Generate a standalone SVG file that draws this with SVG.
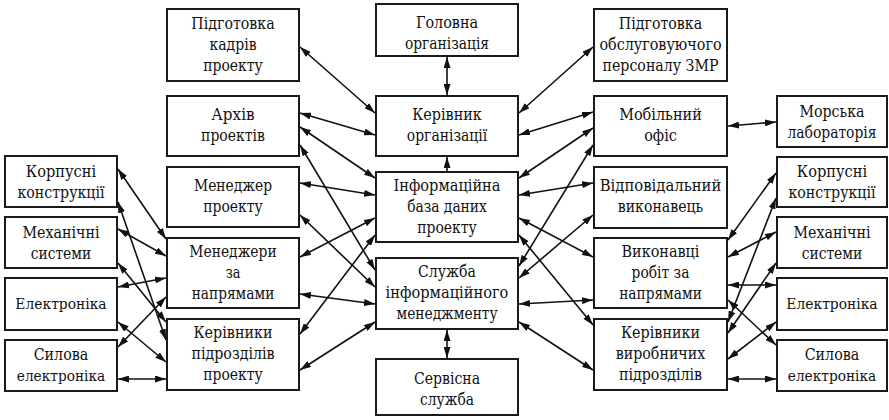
<svg xmlns="http://www.w3.org/2000/svg" width="889" height="420" viewBox="0 0 889 420">
<defs>
<style>
rect{fill:#fff;stroke:#1a1a1a;stroke-width:2}
text{font-family:"DejaVu Serif",serif;font-size:16px;text-anchor:middle;fill:#111}
text.s{font-size:15px}
#connectors line{stroke:#111;stroke-width:1.6;marker-start:url(#ah);marker-end:url(#ah)}
#connectors line.one{marker-start:none}
</style>
<marker id="ah" viewBox="0 0 11 7" refX="11" refY="3.5" markerWidth="11" markerHeight="7" markerUnits="userSpaceOnUse" orient="auto-start-reverse"><path d="M0,0 L11,3.5 L0,7 z" fill="#111"/></marker>
</defs>
<rect x="0" y="0" width="889" height="420" style="fill:#fff;stroke:none"/>

<g id="n-korpus-l"><rect x="5" y="156" width="112" height="51"/><text x="61" y="177" textLength="70.3" lengthAdjust="spacingAndGlyphs">Корпусні</text><text x="61" y="198" textLength="87.1" lengthAdjust="spacingAndGlyphs">конструкції</text></g>
<g id="n-mech-l"><rect x="5" y="217" width="112" height="51"/><text x="61" y="238" textLength="77.1" lengthAdjust="spacingAndGlyphs">Механічні</text><text x="61" y="259" textLength="60.5" lengthAdjust="spacingAndGlyphs">системи</text></g>
<g id="n-elec-l"><rect x="5" y="278" width="112" height="52"/><text class="s" x="61" y="309" textLength="91.3" lengthAdjust="spacingAndGlyphs">Електроніка</text></g>
<g id="n-power-l"><rect x="5" y="340" width="112" height="51"/><text x="61" y="360" textLength="54.6" lengthAdjust="spacingAndGlyphs">Силова</text><text class="s" x="61" y="381" textLength="88.4" lengthAdjust="spacingAndGlyphs">електроніка</text></g>

<g id="n-train"><rect x="167" y="9" width="132" height="72"/><text x="233" y="29" textLength="83.3" lengthAdjust="spacingAndGlyphs">Підготовка</text><text x="233" y="50" textLength="47.1" lengthAdjust="spacingAndGlyphs">кадрів</text><text x="233" y="71" textLength="59.5" lengthAdjust="spacingAndGlyphs">проекту</text></g>
<g id="n-archive"><rect x="167" y="96" width="132" height="60"/><text x="233" y="120" textLength="43.3" lengthAdjust="spacingAndGlyphs">Архів</text><text x="233" y="141" textLength="63.9" lengthAdjust="spacingAndGlyphs">проектів</text></g>
<g id="n-pm"><rect x="167" y="167" width="132" height="60"/><text x="233" y="191" textLength="78" lengthAdjust="spacingAndGlyphs">Менеджер</text><text x="233" y="212" textLength="59.5" lengthAdjust="spacingAndGlyphs">проекту</text></g>
<g id="n-managers"><rect x="167" y="238" width="132" height="70"/><text x="233" y="257" textLength="87.3" lengthAdjust="spacingAndGlyphs">Менеджери</text><text x="233" y="278" textLength="14.7" lengthAdjust="spacingAndGlyphs">за</text><text x="233" y="299" textLength="82.6" lengthAdjust="spacingAndGlyphs">напрямами</text></g>
<g id="n-heads-l"><rect x="167" y="319" width="132" height="71"/><text x="233" y="338" textLength="78.9" lengthAdjust="spacingAndGlyphs">Керівники</text><text x="233" y="359" textLength="83.2" lengthAdjust="spacingAndGlyphs">підрозділів</text><text x="233" y="380" textLength="59.5" lengthAdjust="spacingAndGlyphs">проекту</text></g>

<g id="n-main"><rect x="376" y="4" width="142" height="52"/><text x="447" y="28" textLength="62.2" lengthAdjust="spacingAndGlyphs">Головна</text><text x="447" y="49" textLength="84.1" lengthAdjust="spacingAndGlyphs">організація</text></g>
<g id="n-head"><rect x="376" y="96" width="142" height="60"/><text x="447" y="120" textLength="69.5" lengthAdjust="spacingAndGlyphs">Керівник</text><text x="447" y="141" textLength="80.4" lengthAdjust="spacingAndGlyphs">організації</text></g>
<g id="n-db"><rect x="376" y="172" width="142" height="70"/><text x="447" y="191" textLength="106.9" lengthAdjust="spacingAndGlyphs">Інформаційна</text><text x="447" y="212" textLength="79.7" lengthAdjust="spacingAndGlyphs">база даних</text><text x="447" y="233" textLength="59.5" lengthAdjust="spacingAndGlyphs">проекту</text></g>
<g id="n-ims"><rect x="376" y="258" width="142" height="71"/><text x="447" y="277" textLength="57.8" lengthAdjust="spacingAndGlyphs">Служба</text><text x="447" y="298" textLength="122.8" lengthAdjust="spacingAndGlyphs">інформаційного</text><text x="447" y="319" textLength="101.1" lengthAdjust="spacingAndGlyphs">менеджменту</text></g>
<g id="n-service"><rect x="376" y="359" width="142" height="56"/><text x="447" y="384" textLength="66.2" lengthAdjust="spacingAndGlyphs">Сервісна</text><text x="447" y="405" textLength="53.9" lengthAdjust="spacingAndGlyphs">служба</text></g>

<g id="n-train-r"><rect x="594" y="9" width="133" height="72"/><text x="660.5" y="29" textLength="83.3" lengthAdjust="spacingAndGlyphs">Підготовка</text><text x="660.5" y="50" textLength="122.1" lengthAdjust="spacingAndGlyphs">обслуговуючого</text><text x="660.5" y="71" textLength="115.9" lengthAdjust="spacingAndGlyphs">персоналу ЗМР</text></g>
<g id="n-mobile"><rect x="594" y="96" width="133" height="60"/><text x="660.5" y="120" textLength="82.7" lengthAdjust="spacingAndGlyphs">Мобільний</text><text x="660.5" y="141" textLength="32.7" lengthAdjust="spacingAndGlyphs">офіс</text></g>
<g id="n-resp"><rect x="594" y="167" width="133" height="61"/><text x="660.5" y="191" textLength="121.7" lengthAdjust="spacingAndGlyphs">Відповідальний</text><text x="660.5" y="212" textLength="85.4" lengthAdjust="spacingAndGlyphs">виконавець</text></g>
<g id="n-exec"><rect x="594" y="238" width="133" height="70"/><text x="660.5" y="257" textLength="77.9" lengthAdjust="spacingAndGlyphs">Виконавці</text><text x="660.5" y="278" textLength="57.8" lengthAdjust="spacingAndGlyphs">робіт за</text><text x="660.5" y="299" textLength="82.6" lengthAdjust="spacingAndGlyphs">напрямами</text></g>
<g id="n-heads-r"><rect x="594" y="319" width="133" height="71"/><text x="660.5" y="338" textLength="78.9" lengthAdjust="spacingAndGlyphs">Керівники</text><text x="660.5" y="359" textLength="89.5" lengthAdjust="spacingAndGlyphs">виробничих</text><text x="660.5" y="380" textLength="83.2" lengthAdjust="spacingAndGlyphs">підрозділів</text></g>

<g id="n-lab"><rect x="777" y="96" width="110" height="51"/><text x="832" y="117" textLength="65.1" lengthAdjust="spacingAndGlyphs">Морська</text><text x="832" y="138" textLength="89.1" lengthAdjust="spacingAndGlyphs">лабораторія</text></g>
<g id="n-korpus-r"><rect x="777" y="157" width="110" height="50"/><text x="832" y="177" textLength="70.3" lengthAdjust="spacingAndGlyphs">Корпусні</text><text x="832" y="198" textLength="87.1" lengthAdjust="spacingAndGlyphs">конструкції</text></g>
<g id="n-mech-r"><rect x="777" y="217" width="110" height="51"/><text x="832" y="238" textLength="77.1" lengthAdjust="spacingAndGlyphs">Механічні</text><text x="832" y="259" textLength="60.5" lengthAdjust="spacingAndGlyphs">системи</text></g>
<g id="n-elec-r"><rect x="777" y="278" width="110" height="52"/><text class="s" x="832" y="309" textLength="91.3" lengthAdjust="spacingAndGlyphs">Електроніка</text></g>
<g id="n-power-r"><rect x="777" y="340" width="110" height="51"/><text x="832" y="360" textLength="54.6" lengthAdjust="spacingAndGlyphs">Силова</text><text class="s" x="832" y="381" textLength="88.4" lengthAdjust="spacingAndGlyphs">електроніка</text></g>

<g id="connectors">
<line x1="447" y1="57" x2="447" y2="95"/>
<line class="one" x1="447" y1="171" x2="447" y2="157"/>
<line x1="447" y1="330" x2="447" y2="358"/>
<line x1="300" y1="47" x2="375" y2="113"/>
<line x1="300" y1="113" x2="375" y2="135"/>
<line x1="300" y1="127" x2="375" y2="178"/>
<line x1="300" y1="145" x2="375" y2="270"/>
<line x1="300" y1="183" x2="375" y2="195"/>
<line x1="300" y1="215" x2="375" y2="287"/>
<line x1="300" y1="257" x2="375" y2="218"/>
<line x1="300" y1="294" x2="375" y2="304"/>
<line x1="300" y1="334" x2="375" y2="235"/>
<line x1="300" y1="370" x2="375" y2="322"/>
<line x1="519" y1="113" x2="593" y2="47"/>
<line x1="519" y1="135" x2="593" y2="112"/>
<line x1="519" y1="178" x2="593" y2="128"/>
<line x1="519" y1="266" x2="593" y2="145"/>
<line x1="519" y1="195" x2="593" y2="183"/>
<line x1="519" y1="278" x2="593" y2="215"/>
<line x1="519" y1="218" x2="593" y2="257"/>
<line x1="519" y1="304" x2="593" y2="300"/>
<line x1="519" y1="235" x2="593" y2="325"/>
<line x1="519" y1="322" x2="593" y2="370"/>
<line x1="118" y1="169" x2="166" y2="239"/>
<line x1="118" y1="202" x2="166" y2="340"/>
<line x1="118" y1="229" x2="166" y2="256"/>
<line x1="118" y1="263" x2="166" y2="322"/>
<line x1="118" y1="287" x2="166" y2="278"/>
<line x1="118" y1="322" x2="166" y2="362"/>
<line x1="118" y1="347" x2="166" y2="297"/>
<line x1="118" y1="379" x2="166" y2="379"/>
<line x1="728" y1="126" x2="776" y2="122"/>
<line x1="728" y1="240" x2="776" y2="173"/>
<line x1="728" y1="322" x2="776" y2="198"/>
<line x1="728" y1="257" x2="776" y2="232"/>
<line x1="728" y1="333" x2="776" y2="263"/>
<line x1="728" y1="285" x2="776" y2="285"/>
<line x1="728" y1="359" x2="776" y2="322"/>
<line x1="728" y1="300" x2="776" y2="345"/>
<line x1="728" y1="379" x2="776" y2="379"/>
</g>
</svg>
